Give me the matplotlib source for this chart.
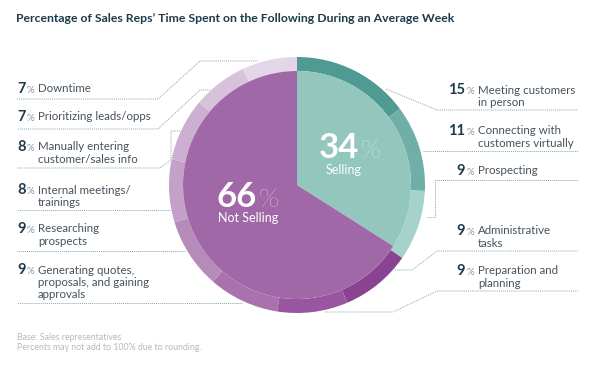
import matplotlib.pyplot as plt

# data
inner_labels = ["Selling", "Not Selling"]
inner_vals = [34, 66]
inner_colors = ["#93c6bd", "#a168a7"]

ring_vals = [15, 11, 9, 9, 9, 9, 9, 8, 8, 7, 7]
ring_labels = ["Meeting customers\nin person", "Connecting with\ncustomers virtually", "Prospecting",
               "Administrative\ntasks", "Preparation and\nplanning",
               "Generating quotes,\nproposals, and gaining\napprovals", "Researching\nprospects",
               "Internal meetings/\ntrainings", "Manually entering\ncustomer/sales info",
               "Prioritizing leads/opps", "Downtime"]
ring_colors = ["#4f9a92", "#6fafa7", "#a5d2cd", "#8a4390", "#9a55a0", "#a872ad",
               "#b68ab9", "#c4a1c8", "#cdb0d1", "#d8c1db", "#e5d5e8"]

NAVY = "#1e3a4c"
GREY = "#46535d"
LINE = "#86abab"

fig = plt.figure(figsize=(6.02, 3.65), dpi=100)
plt.rcParams['font.family'] = ['Lato', 'DejaVu Sans']

# pie: centre (297,185) px, outer radius 128 px
cx, cy, R = 297, 185, 128
ax = fig.add_axes([(cx - R) / 602, (365 - cy - R) / 365, 2 * R / 602, 2 * R / 365])
ax.pie(ring_vals, radius=1, colors=ring_colors, startangle=90, counterclock=False,
       wedgeprops=dict(width=14 / 128, linewidth=0))
ax.pie(inner_vals, radius=114 / 128, colors=inner_colors, startangle=90, counterclock=False,
       wedgeprops=dict(linewidth=0))
ax.set_xlim(-1, 1)
ax.set_ylim(-1, 1)
ax.set_aspect('equal')
ax.axis('off')

# overlay in pixel coords
ov = fig.add_axes([0, 0, 1, 1])
ov.set_xlim(0, 602)
ov.set_ylim(365, 0)
ov.axis('off')

ov.text(16, 19, "Percentage of Sales Reps\u2019 Time Spent on the Following During an Average Week",
        fontsize=8.8, fontweight='bold', color=NAVY, va='center', ha='left')

# centre labels
ov.text(359, 158, str(inner_vals[0]), fontsize=25, fontweight='bold', color='white', ha='right', va='baseline')
ov.text(361, 158, "%", fontsize=19, fontweight='light', color='white', ha='left', va='baseline')
ov.text(326, 170, inner_labels[0], fontsize=9, color='white', ha='left', va='center')
ov.text(257, 207, str(inner_vals[1]), fontsize=25, fontweight='bold', color='white', ha='right', va='baseline')
ov.text(259, 207, "%", fontsize=19, fontweight='light', color='white', ha='left', va='baseline')
ov.text(248, 218, inner_labels[1], fontsize=9, color='white', ha='center', va='center')

# label positions (first-line y) and leader paths, px
right_y = [90, 131, 171, 231, 271]
left_y = [270, 229, 190, 147, 117, 89]
leaders = [
    [(386, 89), (437, 110), (578, 110)],
    [(423, 151), (578, 151)],
    [(427, 217), (435, 217), (435, 180), (578, 180)],
    [(395, 270), (412, 270), (437, 251), (578, 251)],
    [(325, 312), (393, 312), (437, 291), (578, 291)],
    [(242, 303), (17, 303)],
    [(185, 251), (17, 251)],
    [(170, 210), (17, 210)],
    [(180, 131), (171, 131), (171, 160), (160, 168), (17, 168)],
    [(210, 90), (200, 90), (158, 129), (17, 129)],
    [(258, 61), (200, 61), (158, 99), (17, 99)],
]

for i, (val, lab) in enumerate(zip(ring_vals, ring_labels)):
    if i < 5:
        y = right_y[i]
        ov.text(465, y + 4, str(val), fontsize=10.5, fontweight='bold', color=NAVY, ha='right', va='baseline')
        ov.text(467, y + 4, "%", fontsize=7, color='#8a959c', ha='left', va='baseline')
        tx = 478
    else:
        y = left_y[i - 5]
        ov.text(17, y + 4, str(val), fontsize=10.5, fontweight='bold', color=NAVY, ha='left', va='baseline')
        ov.text(27, y + 4, "%", fontsize=7, color='#8a959c', ha='left', va='baseline')
        tx = 38
    for k, line in enumerate(lab.split("\n")):
        ov.text(tx, y + 12.3 * k, line, fontsize=8.3, color=GREY, ha='left', va='center')
    xs, ys = zip(*leaders[i])
    ov.plot(xs, ys, color=LINE, lw=0.7, linestyle=(0, (1, 1)))

ov.text(17, 337, "Base: Sales representatives", fontsize=6.3, color='#b8b8b8', ha='left', va='center')
ov.text(17, 347, "Percents may not add to 100% due to rounding.", fontsize=6.3, color='#b8b8b8',
        ha='left', va='center')

fig.savefig("out.png", dpi=100)
